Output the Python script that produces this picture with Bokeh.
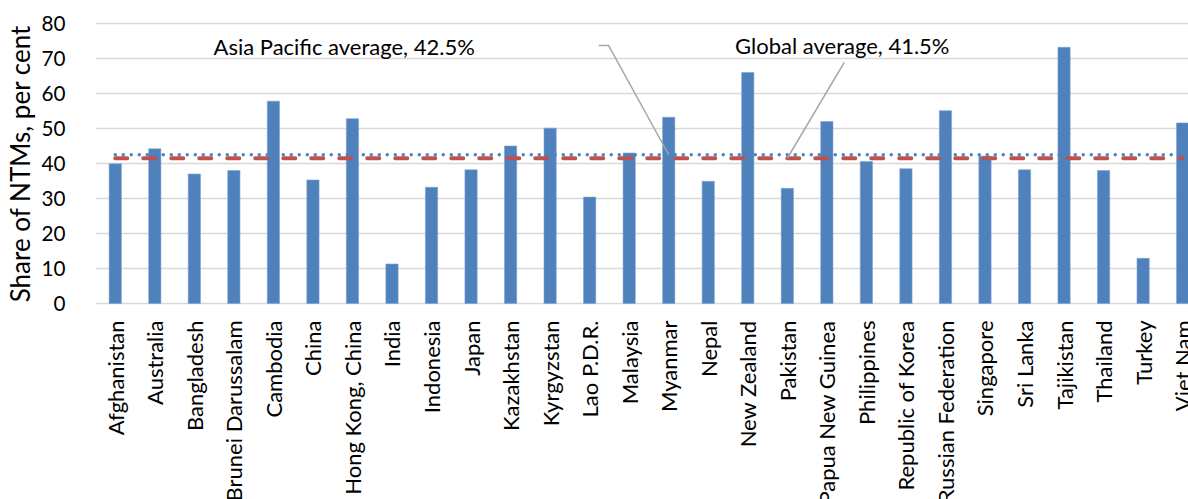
import math
from bokeh.plotting import figure
from bokeh.layouts import column
from bokeh.models import Range1d, FixedTicker, ColumnDataSource
from bokeh.core.properties import value
from bokeh.embed import file_html
from bokeh.resources import INLINE

# ---- data ----
countries = ["Afghanistan", "Australia", "Bangladesh", "Brunei Darussalam", "Cambodia",
             "China", "Hong Kong, China", "India", "Indonesia", "Japan", "Kazakhstan",
             "Kyrgyzstan", "Lao P.D.R.", "Malaysia", "Myanmar", "Nepal", "New Zealand",
             "Pakistan", "Papua New Guinea", "Philippines", "Republic of Korea",
             "Russian Federation", "Singapore", "Sri Lanka", "Tajikistan", "Thailand",
             "Turkey", "Viet Nam"]
ntm_share = [39.9, 44.2, 37.0, 38.0, 57.8, 35.3, 52.8, 11.3, 33.2, 38.2, 45.0,
             50.1, 30.4, 43.0, 53.2, 34.9, 66.0, 32.9, 52.0, 40.6, 38.5,
             55.1, 42.1, 38.2, 73.2, 38.0, 12.9, 51.6]
global_avg = 41.5
asia_avg = 42.5
y_ticks = [0, 10, 20, 30, 40, 50, 60, 70, 80]

FONT = "Lato"
idx = list(range(len(countries)))
xr = Range1d(-0.5, -0.5 + 1099 / 39.75)

p = figure(width=1188, height=316, output_backend="svg", toolbar_location=None,
           x_range=xr, y_range=Range1d(-0.57, 80.57),
           min_border_left=89, min_border_right=0, min_border_top=21, min_border_bottom=11)
p.outline_line_color = None
p.xaxis.visible = False
p.xgrid.visible = False

ya = p.yaxis[0]
ya.ticker = FixedTicker(ticks=y_ticks)
ya.axis_line_color = None
ya.major_tick_line_color = None
ya.minor_tick_line_color = None
ya.major_label_standoff = 24
ya.major_label_text_font = FONT
ya.major_label_text_font_size = "20.7px"
ya.major_label_text_color = "#000000"
ya.axis_label = "Share of NTMs, per cent"
ya.axis_label_text_font = FONT
ya.axis_label_text_font_style = "normal"
ya.axis_label_text_font_size = "26px"
ya.axis_label_text_color = "#000000"
ya.axis_label_standoff = 3

p.ygrid.ticker = FixedTicker(ticks=y_ticks)
p.ygrid.grid_line_color = "#D9D9D9"
p.ygrid.grid_line_width = 1.6

src = ColumnDataSource(dict(x=idx, top=ntm_share, name=countries))
p.vbar(x="x", top="top", bottom=0, width=0.31, source=src,
       fill_color="#4F81BD", line_color="#7FA3D0", line_width=0.6)

# average lines
p.line(x=[idx[0], idx[-1]], y=[global_avg, global_avg], line_color="#C0504D",
       line_width=4, line_dash="12 16", line_cap="round")
p.line(x=[idx[0], idx[-1]], y=[asia_avg, asia_avg], line_color="#4F81BD",
       line_width=3.5, line_dash="0 8", line_cap="round")

# annotations with leader lines
myanmar = countries.index("Myanmar")
pakistan = countries.index("Pakistan")
p.line(x=[12.23, 12.48, myanmar], y=[73.7, 73.7, asia_avg], line_color="#A6A6A6", line_width=1.5)
p.line(x=[18.44, pakistan], y=[68.9, global_avg], line_color="#A6A6A6", line_width=1.5)
p.text(x=[5.79], y=[73.4], text=["Asia Pacific average, 42.5%"], text_align="center",
       text_baseline="middle", text_font=value(FONT), text_font_size="22px", text_color="#000000")
p.text(x=[18.39], y=[73.7], text=["Global average, 41.5%"], text_align="center",
       text_baseline="middle", text_font=value(FONT), text_font_size="22px", text_color="#000000")

# category labels (lower panel sharing the x range, clipped by the window like the reference)
q = figure(width=1188, height=183, output_backend="svg", toolbar_location=None,
           x_range=xr, y_range=Range1d(-183, 0),
           min_border_left=89, min_border_right=0, min_border_top=0, min_border_bottom=0)
q.outline_line_color = None
q.axis.visible = False
q.grid.visible = False
q.text(x="x", y=0, text="name", source=src, angle=math.pi / 2, text_align="right",
       text_baseline="middle", y_offset=4, text_font=value(FONT),
       text_font_size="22px", text_color="#000000")

layout = column(p, q, spacing=0)
open("out.html", "w").write(file_html(layout, INLINE))
